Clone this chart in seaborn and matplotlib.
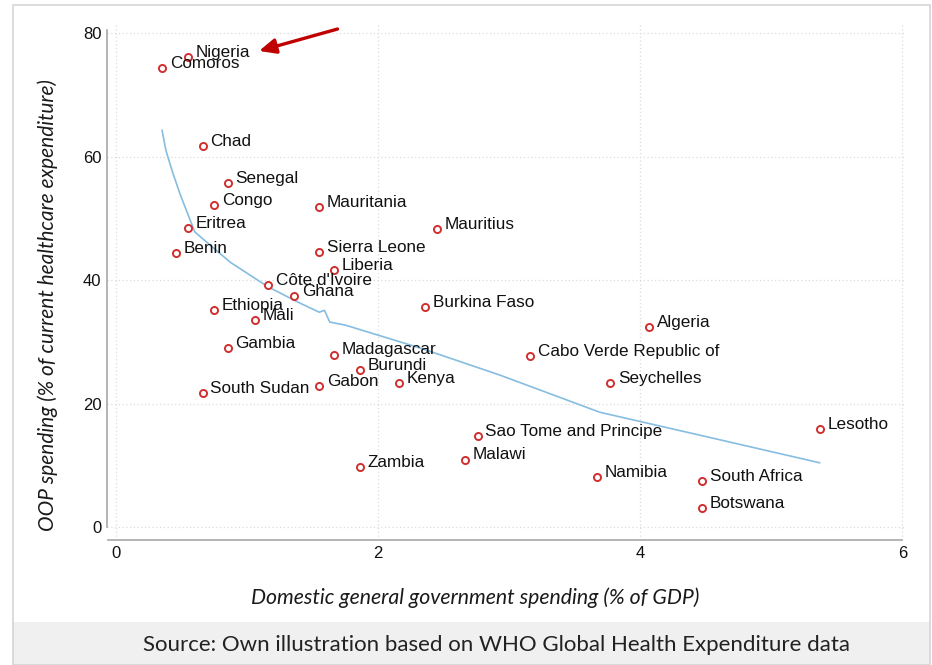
import matplotlib
matplotlib.use("Agg")
import matplotlib.pyplot as plt
import matplotlib.patches as mpatches
import seaborn as sns
import pandas as pd

# country data
countries = ["Nigeria", "Comoros", "Chad", "Senegal", "Congo", "Mauritania", "Eritrea",
             "Mauritius", "Benin", "Sierra Leone", "Liberia", "Côte d'Ivoire", "Ghana",
             "Burkina Faso", "Ethiopia", "Mali", "Algeria", "Gambia", "Madagascar",
             "Cabo Verde Republic of", "Burundi", "Kenya", "Seychelles", "Gabon",
             "South Sudan", "Lesotho", "Sao Tome and Principe", "Malawi", "Zambia",
             "Namibia", "South Africa", "Botswana"]
gov_spend = [0.55, 0.35, 0.66, 0.85, 0.75, 1.55, 0.55, 2.45, 0.46, 1.55, 1.66, 1.16, 1.36,
             2.36, 0.75, 1.06, 4.07, 0.85, 1.66, 3.16, 1.86, 2.16, 3.77, 1.55, 0.66, 5.37,
             2.76, 2.66, 1.86, 3.67, 4.47, 4.47]
oop_share = [76.1, 74.3, 61.7, 55.7, 52.1, 51.8, 48.4, 48.3, 44.4, 44.5, 41.6, 39.2, 37.4,
             35.6, 35.1, 33.5, 32.4, 29.0, 27.9, 27.7, 25.4, 23.3, 23.3, 22.8, 21.7, 15.9,
             14.7, 10.9, 9.7, 8.1, 7.4, 3.1]

# fitted curve
fit_x = [0.35, 0.38, 0.43, 0.49, 0.60, 0.87, 1.16, 1.40, 1.55, 1.59, 1.63, 1.75, 2.32,
         2.93, 3.69, 4.45, 5.37]
fit_y = [64.3, 61.0, 57.5, 53.8, 47.8, 42.9, 38.9, 36.3, 34.8, 35.1, 33.2, 32.7, 29.0,
         24.6, 18.6, 14.9, 10.4]

df = pd.DataFrame({"country": countries, "gov": gov_spend, "oop": oop_share})
fit = pd.DataFrame({"x": fit_x, "y": fit_y})

sns.set_style("white")
plt.rcParams["font.family"] = ["Liberation Sans", "DejaVu Sans"]

fig = plt.figure(figsize=(9.32, 6.65), dpi=100)
ax = fig.add_axes([0.1148, 0.188, 0.8562, 0.776])

sns.lineplot(data=fit, x="x", y="y", color="#86bde0", linewidth=1.2, ax=ax)
sns.scatterplot(data=df, x="gov", y="oop", marker="o", s=26, facecolor="white",
                edgecolor="#d03030", linewidth=1.4, ax=ax, zorder=3)

for name, gx, oy in zip(countries, gov_spend, oop_share):
    ax.annotate(name, (gx, oy), xytext=(5.5, 3.5), textcoords="offset points",
                va="center", ha="left", fontsize=12.3, color="#111111")

# red arrow pointing at Nigeria
ax.annotate("", xy=(1.07, 77.0), xytext=(1.71, 80.8),
            arrowprops=dict(arrowstyle="-|>,head_length=1.0,head_width=0.45",
                            color="#c00000", lw=2.4))

ax.set_xlim(-0.07, 6.02)
ax.set_ylim(-2.1, 81.5)
ax.set_xticks([0, 2, 4, 6])
ax.set_yticks([0, 20, 40, 60, 80])
ax.grid(True, linestyle=(0, (1, 2)), color="#dcdcdc", linewidth=0.9)
ax.set_xlabel("")
ax.set_ylabel("")

for side in ["top", "right"]:
    ax.spines[side].set_visible(False)
ax.spines["left"].set_bounds(0, 80.5)
ax.spines["bottom"].set_bounds(-0.06, 6)
for side in ["left", "bottom"]:
    ax.spines[side].set_color("#a8a8a8")
    ax.spines[side].set_linewidth(1.2)
ax.tick_params(axis="both", length=2.5, color="#a8a8a8", labelsize=12,
               labelcolor="#111111", pad=1.5)

fig.text(48 / 932, 1 - 305 / 665, "OOP spending (% of current healthcare expenditure)",
         rotation=90, ha="center", va="center", fontsize=15, style="italic",
         family="Lato", color="#1a1a1a")
fig.text(475 / 932, 1 - 598 / 665, "Domestic general government spending (% of GDP)",
         ha="center", va="center", fontsize=15.3, style="italic", family="Lato",
         color="#1a1a1a")

# caption band and outer frame
fig.patches.append(mpatches.Rectangle((13 / 932, 0), 917 / 932, 43 / 665,
                                      transform=fig.transFigure, facecolor="#f0f0f0",
                                      edgecolor="none", zorder=0))
fig.patches.append(mpatches.Rectangle((13 / 932, 0), 917 / 932, 660 / 665,
                                      transform=fig.transFigure, facecolor="none",
                                      edgecolor="#d5d5d5", linewidth=1.2, zorder=1))
fig.text(497 / 932, 1 - 645 / 665,
         "Source: Own illustration based on WHO Global Health Expenditure data",
         ha="center", va="center", fontsize=16, family="Lato", color="#222222")

fig.savefig("out.png", dpi=100)
